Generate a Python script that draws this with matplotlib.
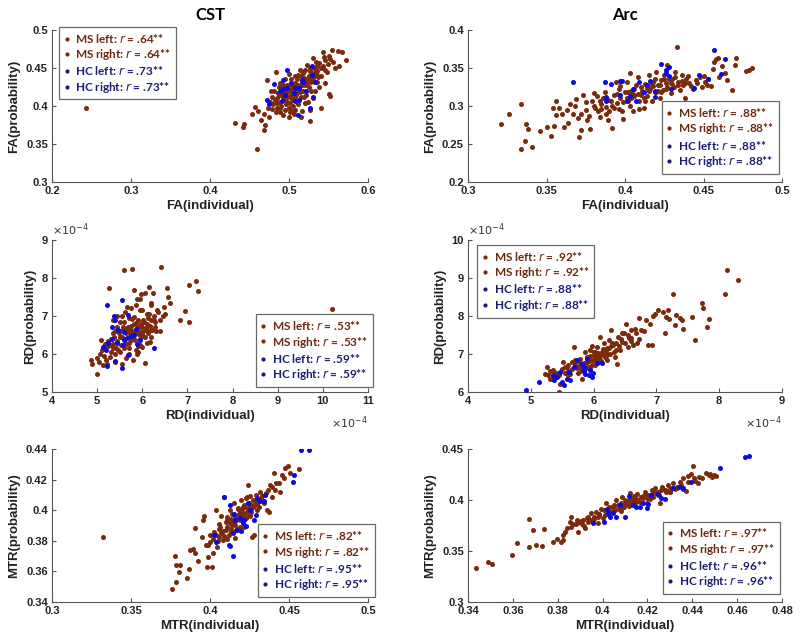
import numpy as np
import matplotlib
matplotlib.use("Agg")
import matplotlib.pyplot as plt
from matplotlib.lines import Line2D
from matplotlib.ticker import FuncFormatter

# ---------------- data ----------------
titles = ["CST", "Arc"]
xlabels = ["FA(individual)", "RD(individual)", "MTR(individual)"]
ylabels = ["FA(probability)", "RD(probability)", "MTR(probability)"]

# legend r values per panel: (MS, HC)
r_values = {
    "fa_cst": (".64", ".73"), "fa_arc": (".88", ".88"),
    "rd_cst": (".53", ".59"), "rd_arc": (".92", ".88"),
    "mtr_cst": (".82", ".95"), "mtr_arc": (".97", ".96"),
}

# ---- FA, CST ----
fa_cst_ms = [(0.243,0.398),(0.459,0.343),(0.432,0.377),(0.443,0.376),(0.442,0.373),(0.457,0.399),(0.453,0.389),(0.468,0.369),(0.464,0.381),(0.468,0.390),(0.470,0.375),(0.475,0.385),(0.461,0.393),
    (0.543,0.471),(0.554,0.474),(0.562,0.473),(0.567,0.471),(0.572,0.460),(0.551,0.466),(0.563,0.452),(0.550,0.416),(0.552,0.413),(0.540,0.398),(0.527,0.395),(0.527,0.380),(0.531,0.463),(0.523,0.454),(0.514,0.447),(0.535,0.452),(0.545,0.460),(0.538,0.456),(0.556,0.458),(0.548,0.445),(0.541,0.440),(0.558,0.450),(0.546,0.430),(0.533,0.445),(0.530,0.437),(0.538,0.425),(0.520,0.448),(0.525,0.440),
    (0.472,0.434),(0.483,0.445),(0.487,0.425),(0.495,0.436),(0.493,0.388),(0.506,0.390),(0.517,0.393),(0.478,0.412),(0.476,0.405),(0.481,0.420),(0.485,0.398),(0.488,0.405),(0.490,0.415),(0.483,0.392),(0.500,0.398),(0.497,0.405),(0.492,0.410),(0.495,0.420),(0.498,0.428),(0.502,0.415),(0.505,0.408),(0.503,0.422),(0.508,0.430),(0.510,0.418),(0.512,0.425),(0.507,0.440),(0.512,0.402),(0.515,0.412),(0.518,0.420),(0.516,0.432),(0.520,0.428),(0.522,0.415),(0.525,0.425),(0.528,0.432),(0.524,0.405),(0.515,0.385),(0.500,0.385),(0.490,0.400),(0.485,0.410),(0.495,0.395),(0.505,0.400),(0.510,0.435),(0.502,0.435),(0.480,0.402),(0.492,0.428),(0.533,0.420),(0.536,0.432),(0.530,0.410),(0.515,0.440),(0.500,0.442),(0.488,0.430),(0.477,0.420),(0.498,0.412),(0.507,0.412),(0.513,0.408),(0.496,0.403),
    (0.479,0.396),(0.486,0.417),(0.494,0.426),(0.501,0.404),(0.509,0.423),(0.514,0.418),(0.519,0.437),(0.526,0.446),(0.532,0.450),(0.504,0.394),(0.489,0.392),(0.474,0.398),
    (0.482,0.408),(0.487,0.414),(0.491,0.418),(0.494,0.409),(0.497,0.418),(0.499,0.422),(0.503,0.410),(0.506,0.425),(0.509,0.415),(0.511,0.428),(0.514,0.421),(0.517,0.427),(0.519,0.412),(0.521,0.435),(0.523,0.430),(0.526,0.436),(0.529,0.442),(0.532,0.440),(0.535,0.446),(0.537,0.438),(0.540,0.450),(0.543,0.452),(0.546,0.448),(0.549,0.455),(0.552,0.462),(0.544,0.465),(0.534,0.458),(0.527,0.450),(0.518,0.444),(0.511,0.441),(0.504,0.418),(0.496,0.413),(0.489,0.397),(0.485,0.404),(0.503,0.428),(0.501,0.392),(0.508,0.395),(0.520,0.404),(0.528,0.420),(0.536,0.441)]
fa_cst_hc = [(0.498,0.448),(0.493,0.434),(0.481,0.429),(0.529,0.441),(0.529,0.452),(0.518,0.431),(0.513,0.424),(0.506,0.417),(0.498,0.424),(0.489,0.420),(0.495,0.414),(0.472,0.408),(0.475,0.403),(0.491,0.406),(0.507,0.407),(0.513,0.408),(0.530,0.412),(0.527,0.397),(0.511,0.388),(0.522,0.420),(0.533,0.432),(0.502,0.430),(0.508,0.424),(0.516,0.434),(0.493,0.422)]

# ---- FA, Arc ----
fa_arc_ms = [(0.321,0.276),(0.326,0.289),(0.334,0.302),(0.337,0.276),(0.338,0.270),(0.336,0.254),(0.334,0.243),(0.341,0.246),(0.346,0.267),(0.350,0.272),(0.353,0.261),(0.355,0.274),(0.356,0.288),(0.356,0.306),(0.354,0.297),(0.358,0.297),(0.360,0.290),(0.361,0.272),(0.364,0.278),(0.365,0.302),(0.367,0.289),(0.369,0.309),(0.370,0.284),(0.371,0.259),(0.372,0.268),(0.373,0.315),(0.375,0.295),(0.376,0.282),(0.378,0.270),(0.379,0.306),(0.380,0.317),(0.382,0.313),(0.383,0.293),(0.384,0.285),(0.385,0.302),(0.386,0.311),(0.387,0.319),(0.388,0.289),(0.389,0.282),(0.390,0.293),(0.391,0.306),(0.392,0.271),(0.393,0.315),(0.394,0.332),(0.395,0.304),(0.396,0.322),(0.397,0.311),(0.398,0.293),(0.399,0.283),(0.400,0.318),(0.401,0.332),(0.402,0.306),(0.403,0.344),(0.404,0.320),(0.405,0.293),(0.406,0.313),(0.407,0.327),(0.408,0.338),(0.409,0.306),(0.411,0.320),(0.412,0.298),(0.413,0.329),(0.414,0.313),(0.415,0.341),(0.416,0.322),(0.417,0.306),(0.418,0.332),(0.419,0.318),(0.420,0.345),(0.421,0.327),(0.422,0.311),(0.423,0.334),(0.424,0.321),(0.425,0.341),(0.426,0.330),(0.427,0.354),(0.429,0.317),(0.430,0.336),(0.431,0.325),(0.432,0.345),(0.433,0.377),(0.434,0.332),(0.435,0.321),(0.436,0.341),(0.437,0.327),(0.438,0.311),(0.439,0.336),(0.441,0.330),(0.443,0.323),(0.445,0.334),(0.448,0.338),(0.449,0.325),(0.451,0.332),(0.453,0.336),(0.455,0.326),(0.456,0.349),(0.457,0.358),(0.458,0.362),(0.459,0.363),(0.464,0.344),(0.465,0.334),(0.468,0.321),(0.470,0.354),(0.471,0.363),(0.477,0.346),(0.479,0.347),(0.481,0.350),
    (0.392,0.300),(0.396,0.296),(0.401,0.310),(0.405,0.316),(0.410,0.315),(0.414,0.324),(0.418,0.326),(0.422,0.328),(0.426,0.322),(0.430,0.329),(0.434,0.327),(0.438,0.330),(0.388,0.299),(0.384,0.306),(0.397,0.326),(0.403,0.300),(0.409,0.296),(0.413,0.306),(0.420,0.318),(0.428,0.335),
    (0.375,0.305),(0.380,0.300),(0.385,0.296),(0.389,0.308),(0.393,0.298),(0.395,0.316),(0.399,0.305),(0.402,0.318),(0.404,0.310),(0.406,0.322),(0.408,0.316),(0.410,0.325),(0.412,0.310),(0.415,0.320),(0.417,0.328),(0.419,0.335),(0.421,0.320),(0.423,0.318),(0.425,0.335),(0.427,0.325),(0.429,0.330),(0.432,0.338),(0.436,0.333),(0.440,0.340),(0.442,0.326),(0.446,0.330),(0.450,0.340),(0.452,0.327),(0.460,0.338),(0.462,0.352),(0.363,0.295),(0.368,0.300),(0.372,0.290),(0.377,0.287),(0.381,0.297)]
fa_arc_hc = [(0.367,0.331),(0.387,0.331),(0.391,0.329),(0.388,0.312),(0.388,0.307),(0.397,0.333),(0.398,0.333),(0.397,0.315),(0.401,0.306),(0.403,0.313),(0.405,0.322),(0.407,0.306),(0.409,0.331),(0.412,0.318),(0.414,0.327),(0.416,0.333),(0.419,0.320),(0.419,0.312),(0.423,0.355),(0.426,0.347),(0.428,0.351),(0.428,0.339),(0.429,0.322),(0.444,0.324),(0.447,0.341),(0.453,0.336),(0.457,0.374),(0.461,0.342),(0.464,0.362),(0.426,0.343)]

# ---- RD, CST (x 10^-4) ----
rd_cst_ms = [(5.00,5.48),(4.86,5.85),(4.89,5.75),(5.00,5.89),(5.07,6.01),(5.08,6.36),(5.18,6.27),(5.21,5.75),(5.29,5.92),(5.27,7.75),(5.36,6.27),(5.40,6.01),(5.44,6.71),(5.47,6.10),(5.51,6.45),(5.55,5.75),(5.60,8.21),(5.63,6.27),(5.66,7.24),(5.70,6.01),(5.74,6.62),(5.77,8.23),(5.81,7.69),(5.82,6.98),(5.84,6.36),(5.88,7.46),(5.89,6.01),(5.91,6.71),(5.94,7.15),(5.96,6.49),(5.97,7.58),(5.99,6.18),(6.02,6.89),(6.05,5.76),(6.07,6.62),(6.10,7.06),(6.14,7.76),(6.16,6.32),(6.19,7.33),(6.23,7.61),(6.25,6.89),(6.29,6.71),(6.33,7.15),(6.42,8.28),(6.47,7.24),(6.51,7.06),(6.55,7.73),(6.58,7.49),(6.62,7.33),(6.84,6.89),(6.95,7.13),(7.04,6.85),(7.03,7.82),(7.18,7.93),(7.23,7.67),(10.2,7.19),
    (5.25,6.20),(5.30,6.40),(5.35,6.55),(5.45,6.35),(5.50,6.60),(5.55,6.45),(5.60,6.85),(5.65,6.55),(5.70,6.30),(5.75,6.75),(5.80,6.45),(5.85,6.60),(5.90,6.90),(5.95,6.40),(6.00,6.70),(6.00,6.55),(6.05,6.45),(6.10,6.80),(6.15,6.60),(6.20,6.90),(6.25,7.00),(5.70,6.95),(5.60,6.15),(5.50,6.05),(5.40,5.80),(5.30,6.05),(5.15,5.95),(5.10,6.10),(5.65,5.90),(5.85,6.10),(5.95,6.25),(6.30,6.60),(6.40,6.90),(6.35,7.10),(5.75,7.20),(5.55,7.00),(5.95,7.45),(6.05,7.60),(6.20,7.30),(5.35,6.90),(5.45,7.00),(5.90,6.20),(6.10,6.30),(5.80,5.85),(5.20,5.85),
    (5.78,6.55),(5.92,6.52),(6.03,6.62),(5.88,6.68),(5.72,6.48),(5.68,6.70),(5.98,6.78),(6.12,6.95),(5.82,6.78),(5.58,6.62),
    (5.25,6.35),(5.30,6.25),(5.38,6.45),(5.42,6.15),(5.48,6.55),(5.52,6.25),(5.58,6.72),(5.62,6.40),(5.66,6.65),(5.72,6.58),(5.76,6.38),(5.78,6.92),(5.83,6.52),(5.86,6.82),(5.92,6.72),(5.96,6.58),(6.01,6.48),(6.04,6.85),(6.08,6.68),(6.12,6.55),(6.18,6.75),(6.22,6.62),(6.28,6.85),(5.62,7.10),(5.85,7.30),(6.00,7.15),(6.15,7.05),(5.50,6.85),(5.40,6.60),(5.15,6.20),(5.05,5.80),(5.12,5.70),(5.35,6.15),(5.90,6.05),(6.20,6.45),(6.40,6.60),(6.45,7.00),(5.70,6.15)]
rd_cst_hc = [(5.22,7.29),(5.55,7.42),(5.37,7.00),(5.40,6.89),(5.33,6.71),(5.46,6.62),(5.59,6.58),(5.68,7.02),(5.60,6.36),(5.66,6.42),(5.74,6.47),(5.81,6.49),(5.86,6.67),(5.94,6.36),(5.88,6.27),(5.57,6.23),(5.44,6.29),(5.23,6.29),(5.14,6.18),(5.20,6.10),(5.22,5.69),(5.40,5.82),(5.55,5.64),(6.25,6.17),(5.68,5.97),(5.33,6.40)]

# ---- RD, Arc (x 10^-4) ----
rd_arc_ms = [(5.45,6.00),(5.26,6.66),(5.22,6.48),(5.31,6.35),(5.36,6.57),(5.41,6.44),(5.47,6.22),(5.52,6.80),(5.57,6.66),(5.63,6.48),(5.68,7.19),(5.71,6.80),(5.73,6.62),(5.78,6.88),(5.81,6.35),(5.84,6.75),(5.86,7.06),(5.89,6.93),(5.92,6.66),(5.94,7.10),(5.97,6.84),(6.00,6.97),(6.02,6.71),(6.05,7.19),(6.08,6.88),(6.10,7.45),(6.13,7.06),(6.16,7.28),(6.18,6.93),(6.21,7.15),(6.24,7.37),(6.26,7.01),(6.27,7.63),(6.31,7.23),(6.34,6.93),(6.37,6.73),(6.39,7.45),(6.42,7.10),(6.45,7.32),(6.48,7.54),(6.52,7.78),(6.54,7.19),(6.57,7.41),(6.59,7.63),(6.63,7.23),(6.66,7.67),(6.69,7.30),(6.73,7.96),(6.75,7.63),(6.84,7.89),(6.87,7.23),(6.90,7.80),(6.93,7.23),(6.95,7.99),(6.98,8.04),(7.03,8.15),(7.11,8.11),(7.15,7.98),(7.14,7.54),(7.19,8.17),(7.20,7.93),(7.27,8.59),(7.30,7.76),(7.32,8.02),(7.37,7.96),(7.42,7.67),(7.40,7.89),(7.57,7.98),(7.61,7.36),(7.73,8.33),(7.74,8.20),(7.80,7.70),(7.83,7.93),(8.10,8.58),(8.13,9.21),(8.30,8.95),
    (5.80,6.70),(5.90,6.80),(6.00,6.85),(5.95,6.60),(6.05,6.90),(6.10,6.95),(5.85,6.55),(6.15,7.00),(6.20,7.05),(5.75,6.50),(5.65,6.60),(5.55,6.50),(5.95,6.95),(6.05,6.75),(6.25,7.15),(6.35,7.10),(5.70,6.70),(5.50,6.60),(5.40,6.50),(6.12,6.82),
    (5.30,6.55),(5.35,6.40),(5.60,6.55),(5.88,6.62),(6.02,7.05),(6.30,7.30),(6.45,7.55),(6.60,7.42),(6.22,6.85),(5.98,7.20),
    (5.55,6.65),(5.60,6.72),(5.65,6.78),(5.70,6.85),(5.75,6.65),(5.78,6.75),(5.82,6.62),(5.88,6.75),(5.90,6.90),(5.93,6.82),(5.97,6.72),(6.00,7.05),(6.03,6.95),(6.07,7.02),(6.10,6.85),(6.15,7.12),(6.19,7.10),(6.22,6.98),(6.28,7.20),(6.32,7.05),(6.36,7.28),(6.40,7.20),(6.44,7.40),(6.50,7.30),(6.55,7.50),(6.60,7.35),(6.68,7.55),(6.72,7.40),(6.80,7.60),(5.45,6.45),(5.35,6.35),(5.28,6.45),(5.60,6.45),(5.80,6.55),(6.08,6.78)]
rd_arc_hc = [(4.92,6.04),(5.13,6.26),(5.36,6.44),(5.37,6.31),(5.47,6.53),(5.50,6.26),(5.53,6.18),(5.57,6.35),(5.61,6.53),(5.63,6.31),(5.73,6.84),(5.81,6.73),(5.84,6.57),(5.86,6.48),(5.89,6.88),(5.92,6.44),(5.94,6.57),(5.97,6.40),(5.99,6.51),(6.05,6.75),(6.13,6.77),(5.68,6.66),(5.41,6.40),(5.85,6.66)]

# ---- MTR, CST ----
mtr_cst_ms = [(0.3325,0.3827),(0.3758,0.3483),(0.3785,0.3531),(0.3781,0.3702),(0.3785,0.3639),(0.3812,0.3645),(0.3801,0.3593),(0.3854,0.3560),(0.3869,0.3614),(0.3875,0.3739),(0.3892,0.3746),(0.3903,0.3722),(0.3907,0.3882),(0.3922,0.3669),(0.3956,0.3937),(0.3949,0.3827),(0.3964,0.3959),(0.3977,0.3772),(0.3981,0.3630),(0.3985,0.3695),(0.3998,0.3794),(0.4013,0.3630),(0.4019,0.3717),(0.4028,0.3860),(0.4040,0.4002),(0.4044,0.3761),(0.4055,0.3827),(0.4065,0.3893),(0.4070,0.3959),(0.4082,0.3805),(0.4091,0.4089),(0.4099,0.3871),(0.4108,0.3937),(0.4118,0.3838),(0.4129,0.4002),(0.4139,0.3904),(0.4150,0.4046),(0.4160,0.3959),(0.4167,0.3871),(0.4175,0.4013),(0.4188,0.3937),(0.4196,0.4068),(0.4205,0.3981),(0.4213,0.3893),(0.4224,0.4024),(0.4234,0.4089),(0.4243,0.4166),(0.4253,0.3959),(0.4262,0.4035),(0.4268,0.3827),(0.4279,0.3838),(0.4289,0.4100),(0.4300,0.4002),(0.4310,0.4068),(0.4319,0.4122),(0.4340,0.4046),(0.4361,0.4002),(0.4371,0.3991),(0.4382,0.4166),(0.4392,0.4089),(0.4403,0.4242),(0.4414,0.4133),(0.4435,0.4177),(0.4445,0.4122),(0.4456,0.4232),(0.4466,0.4210),(0.4477,0.4275),(0.4492,0.4291),(0.4508,0.4242),(0.4561,0.4269),
    (0.415,0.392),(0.418,0.396),(0.420,0.394),(0.422,0.398),(0.424,0.400),(0.426,0.401),(0.421,0.402),(0.419,0.399),(0.417,0.388),(0.413,0.386),(0.411,0.389),(0.409,0.383),(0.407,0.385),(0.405,0.380),(0.423,0.395),(0.428,0.403),(0.425,0.397),(0.414,0.393),(0.416,0.382),(0.430,0.405),
    (0.4235,0.3985),(0.4205,0.4005),(0.4185,0.3975),(0.4245,0.4045),(0.4275,0.4065),(0.4125,0.3915),(0.4100,0.3920),(0.4060,0.3875),(0.4330,0.4090),(0.4355,0.4110),
    (0.4105,0.3955),(0.4130,0.3945),(0.4140,0.3975),(0.4165,0.3935),(0.4180,0.4005),(0.4200,0.3965),(0.4215,0.4035),(0.4225,0.3955),(0.4240,0.4005),(0.4250,0.4030),(0.4260,0.3990),(0.4270,0.4020),(0.4285,0.4055),(0.4295,0.4040),(0.4310,0.4020),(0.4320,0.4080),(0.4345,0.4100),(0.4370,0.4130),(0.4390,0.4150),(0.4420,0.4180),(0.4080,0.3865),(0.4060,0.3910),(0.4040,0.3840),(0.4020,0.3810),(0.4000,0.3835),(0.3990,0.3770),(0.4110,0.3810),(0.4135,0.3880),(0.4160,0.3905),(0.4190,0.3890),(0.4225,0.4080),(0.4250,0.4095)]
mtr_cst_hc = [(0.4576,0.4391),(0.4624,0.4391),(0.4529,0.4231),(0.4525,0.4183),(0.4091,0.4089),(0.4125,0.4035),(0.4026,0.3838),(0.4036,0.3790),(0.4120,0.3772),(0.4127,0.3765),(0.4146,0.3700),(0.4146,0.3849),(0.4150,0.3974),(0.4160,0.3937),(0.4192,0.3948),(0.4207,0.3915),(0.4230,0.3897),(0.4241,0.4050),(0.4255,0.4002),(0.4281,0.3937),(0.4294,0.3970),(0.4300,0.4079),(0.4319,0.4063),(0.4340,0.4063),(0.4350,0.4100),(0.4213,0.3937),(0.4171,0.3871),(0.4196,0.3866)]

# ---- MTR, Arc ----
mtr_arc_ms = [(0.3434,0.3335),(0.3487,0.3391),(0.3507,0.3371),(0.3596,0.3456),(0.3618,0.3574),(0.3670,0.3542),(0.3673,0.3817),(0.3692,0.3706),(0.3705,0.3555),(0.3728,0.3545),(0.3740,0.3712),(0.3778,0.3591),(0.3796,0.3617),(0.3814,0.3591),(0.3825,0.3607),(0.3825,0.3656),(0.3833,0.3689),(0.3840,0.3722),(0.3860,0.3837),(0.3870,0.3765),(0.3884,0.3804),(0.3892,0.3689),(0.3907,0.3765),(0.3911,0.3804),(0.3921,0.3722),(0.3929,0.3820),(0.3936,0.3788),(0.3947,0.3870),(0.3956,0.3804),(0.3964,0.3837),(0.3971,0.3886),(0.3979,0.3771),(0.3986,0.3853),(0.3993,0.3909),(0.4000,0.3820),(0.4007,0.3902),(0.4014,0.3975),(0.4022,0.3870),(0.4029,0.3929),(0.4044,0.3886),(0.4051,0.3952),(0.4059,0.4001),(0.4074,0.3909),(0.4081,0.3968),(0.4087,0.4034),(0.4094,0.3935),(0.4101,0.4001),(0.4116,0.3968),(0.4123,0.4073),(0.4131,0.4017),(0.4145,0.3984),(0.4153,0.4060),(0.4160,0.4001),(0.4175,0.4034),(0.4190,0.4083),(0.4197,0.3968),(0.4204,0.4050),(0.4219,0.4099),(0.4227,0.4034),(0.4234,0.4116),(0.4249,0.4083),(0.4256,0.3968),(0.4263,0.4132),(0.4278,0.4099),(0.4293,0.4148),(0.4301,0.4083),(0.4316,0.4165),(0.4330,0.4132),(0.4345,0.4181),(0.4360,0.4214),(0.4370,0.4093),(0.4381,0.4237),(0.4393,0.4253),(0.4405,0.4329),(0.4409,0.4214),(0.4425,0.4165),(0.4431,0.4224),(0.4461,0.4263),(0.4476,0.4247),(0.4490,0.4230),(0.4504,0.4237),
    (0.405,0.392),(0.410,0.395),(0.415,0.398),(0.420,0.402),(0.425,0.405),(0.430,0.408),(0.412,0.400),(0.418,0.404),(0.408,0.389),(0.402,0.386),(0.398,0.383),(0.395,0.380),(0.422,0.406),(0.428,0.410),(0.433,0.412),(0.436,0.411),
    (0.3895,0.3785),(0.3915,0.3745),(0.3940,0.3800),(0.4040,0.3935),(0.4110,0.3990),(0.4170,0.4030),(0.4240,0.4065),(0.4300,0.4110),(0.4210,0.4010),(0.4140,0.4040),
    (0.3960,0.3810),(0.3985,0.3860),(0.4010,0.3850),(0.4035,0.3885),(0.4055,0.3905),(0.4070,0.3950),(0.4085,0.3930),(0.4105,0.3970),(0.4120,0.3945),(0.4135,0.3985),(0.4150,0.4010),(0.4165,0.3980),(0.4180,0.4015),(0.4195,0.4040),(0.4215,0.4030),(0.4230,0.4070),(0.4245,0.4050),(0.4260,0.4095),(0.4285,0.4080),(0.4310,0.4120),(0.4325,0.4110),(0.4350,0.4150),(0.4380,0.4175),(0.4410,0.4190),(0.4445,0.4215),(0.4480,0.4255),(0.4495,0.4245),(0.3935,0.3835),(0.3905,0.3790),(0.3880,0.3760),(0.3860,0.3740),(0.3855,0.3780)]
mtr_arc_hc = [(0.3959,0.3771),(0.4007,0.3788),(0.4018,0.3909),(0.4025,0.3870),(0.4033,0.3837),(0.4062,0.3837),(0.4077,0.3952),(0.4099,0.3837),(0.4119,0.4040),(0.4136,0.3952),(0.4151,0.3929),(0.4166,0.3929),(0.4196,0.3919),(0.4203,0.3962),(0.4218,0.4050),(0.4247,0.4060),(0.4262,0.4017),(0.4277,0.4014),(0.4314,0.4116),(0.4341,0.4132),(0.4359,0.4116),(0.4396,0.4181),(0.4524,0.4313),(0.4633,0.4421),(0.4652,0.4428),(0.4047,0.3876),(0.4181,0.3975)]

# axis ranges / ticks
panels = [
    dict(key="fa_cst", ms=fa_cst_ms, hc=fa_cst_hc, xlim=(0.2, 0.6), xt=[0.2, 0.3, 0.4, 0.5, 0.6], ylim=(0.3, 0.5), yt=[0.3, 0.35, 0.4, 0.45, 0.5]),
    dict(key="fa_arc", ms=fa_arc_ms, hc=fa_arc_hc, xlim=(0.3, 0.5), xt=[0.3, 0.35, 0.4, 0.45, 0.5], ylim=(0.2, 0.4), yt=[0.2, 0.25, 0.3, 0.35, 0.4]),
    dict(key="rd_cst", ms=rd_cst_ms, hc=rd_cst_hc, xlim=(4, 11), xt=[4, 5, 6, 7, 8, 9, 10, 11], ylim=(5, 9), yt=[5, 6, 7, 8, 9]),
    dict(key="rd_arc", ms=rd_arc_ms, hc=rd_arc_hc, xlim=(4, 9), xt=[4, 5, 6, 7, 8, 9], ylim=(6, 10), yt=[6, 7, 8, 9, 10]),
    dict(key="mtr_cst", ms=mtr_cst_ms, hc=mtr_cst_hc, xlim=(0.3, 0.5), xt=[0.3, 0.35, 0.4, 0.45, 0.5], ylim=(0.34, 0.44), yt=[0.34, 0.36, 0.38, 0.4, 0.42, 0.44]),
    dict(key="mtr_arc", ms=mtr_arc_ms, hc=mtr_arc_hc, xlim=(0.34, 0.48), xt=[0.34, 0.36, 0.38, 0.4, 0.42, 0.44, 0.46, 0.48], ylim=(0.3, 0.45), yt=[0.3, 0.35, 0.4, 0.45]),
]

# ---------------- styling / layout ----------------
W, H = 800, 639
MS_COLOR = "#7b2a0c"
HC_COLOR = "#0a0ae0"
MS_TXT = "#6a2a10"
HC_TXT = "#1c1f70"
HC_LEG = "#1a1a7a"
SPINE = "#555555"
TICKFONT = "Liberation Sans"
LEGFONT = "Lato"

fig = plt.figure(figsize=(W / 100, H / 100), dpi=100)

col_left = [52, 468]
col_right = [368, 782]
row_top = [30, 240, 449]
row_bot = [182, 392, 602]

# legend placements: (loc, anchor in axes fraction)
leg_place = [
    ("upper left", (0.022, 1.02)),
    ("lower right", (0.99, 0.053)),
    ("lower right", (1.016, 0.033)),
    ("upper left", (0.029, 0.967)),
    ("lower right", (1.022, 0.033)),
    ("lower right", (0.994, 0.052)),
]

fmt = FuncFormatter(lambda v, p: f"{v:g}")

for i, pnl in enumerate(panels):
    r, c = divmod(i, 2)
    l, rr = col_left[c], col_right[c]
    t, b = row_top[r], row_bot[r]
    ax = fig.add_axes([l / W, 1 - b / H, (rr - l) / W, (b - t) / H])
    ms = np.array(pnl["ms"])
    hc = np.array(pnl["hc"])
    ax.scatter(ms[:, 0], ms[:, 1], s=13, color=MS_COLOR, linewidths=0, zorder=2)
    ax.scatter(hc[:, 0], hc[:, 1], s=13, color=HC_COLOR, linewidths=0, zorder=3)
    ax.set_xlim(pnl["xlim"])
    ax.set_ylim(pnl["ylim"])
    ax.set_xticks(pnl["xt"])
    ax.set_yticks(pnl["yt"])
    ax.xaxis.set_major_formatter(fmt)
    ax.yaxis.set_major_formatter(fmt)
    for s in ["top", "right"]:
        ax.spines[s].set_visible(False)
    for s in ["left", "bottom"]:
        ax.spines[s].set_color(SPINE)
        ax.spines[s].set_linewidth(0.8)
    ax.tick_params(direction="in", length=3, width=0.8, color=SPINE, pad=3)
    for lab in ax.get_xticklabels() + ax.get_yticklabels():
        lab.set_fontfamily(TICKFONT)
        lab.set_fontweight("bold")
        lab.set_fontsize(8)
        lab.set_color("#222222")
    ax.set_xlabel(xlabels[r], fontfamily=TICKFONT, fontweight="bold", fontsize=9.5, labelpad=3, color="#222222")
    ax.set_ylabel(ylabels[r], fontfamily=TICKFONT, fontweight="bold", fontsize=9.5, labelpad=4, color="#222222")
    if r == 0:
        ax.set_title(titles[c], fontfamily=LEGFONT, fontweight="bold", fontsize=12, pad=7)
    if r == 1:
        ax.text(0.0, 1.01, r"$\times10^{-4}$", transform=ax.transAxes, fontsize=8, ha="left", va="bottom", color="#333333")
        ax.text(1.0, -0.15, r"$\times10^{-4}$", transform=ax.transAxes, fontsize=8, ha="right", va="top", color="#333333")

    rms, rhc = r_values[pnl["key"]]
    labels = [f"MS left: $\\mathit{{r}}$ = {rms}**", f"MS right: $\\mathit{{r}}$ = {rms}**",
              f"HC left: $\\mathit{{r}}$ = {rhc}**", f"HC right: $\\mathit{{r}}$ = {rhc}**"]
    handles = [Line2D([], [], ls="", marker="o", ms=3, mec="none", mfc=MS_COLOR),
               Line2D([], [], ls="", marker="o", ms=3, mec="none", mfc=MS_COLOR),
               Line2D([], [], ls="", marker="o", ms=3, mec="none", mfc=HC_LEG),
               Line2D([], [], ls="", marker="o", ms=3, mec="none", mfc=HC_LEG)]
    loc, anc = leg_place[i]
    leg = ax.legend(handles, labels, loc=loc, bbox_to_anchor=anc, frameon=True, fancybox=False,
                    prop={"family": LEGFONT, "weight": "bold", "size": 8.5},
                    handlelength=0.5, handletextpad=0.5, labelspacing=0.2, borderpad=0.4,
                    borderaxespad=0.0)
    leg.get_frame().set_edgecolor("#444444")
    leg.get_frame().set_linewidth(0.9)
    leg.set_zorder(5)
    for k, txt in enumerate(leg.get_texts()):
        txt.set_color(MS_TXT if k < 2 else HC_TXT)

fig.savefig("out.png", dpi=100)
